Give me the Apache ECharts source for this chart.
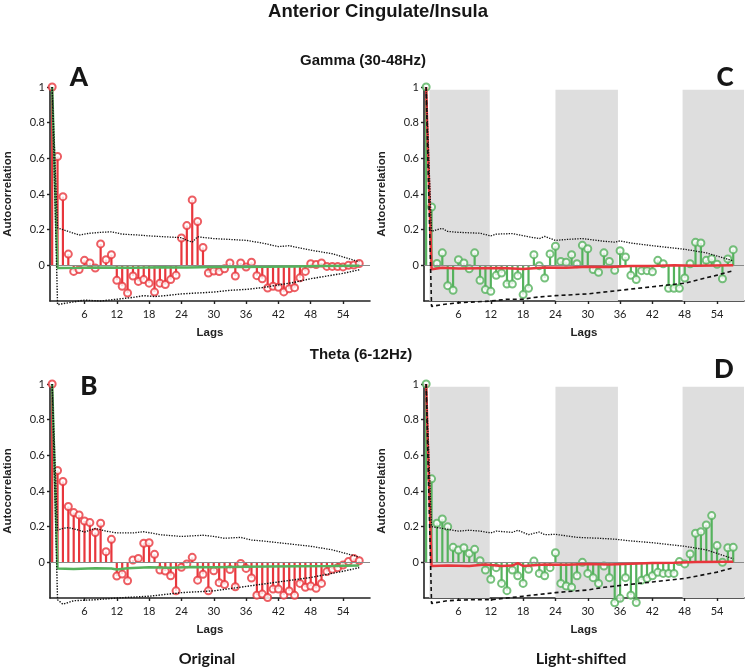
<!DOCTYPE html>
<html>
<head>
<meta charset="utf-8">
<script src="https://cdn.jsdelivr.net/npm/echarts@6/dist/echarts.min.js"></script>
<style>
html,body{margin:0;padding:0;background:#fff;}
#chart{width:750px;height:669px;}
</style>
</head>
<body>
<div id="chart"></div>
<script>
// ---------------- DATA ----------------
// Autocorrelation by lag (lag 0 .. 57)
const gammaOriginal = [1.0, 0.61, 0.385, 0.063, -0.034, -0.024, 0.028, 0.013, -0.015, 0.12, 0.032, 0.06, -0.084, -0.117, -0.155, -0.06, -0.09, -0.08, -0.1, -0.15, -0.1, -0.108, -0.08, -0.056, 0.153, 0.223, 0.367, 0.246, 0.10, -0.043, -0.032, -0.035, -0.019, 0.013, -0.06, 0.013, -0.01, 0.017, -0.058, -0.075, -0.127, -0.117, -0.123, -0.149, -0.132, -0.125, -0.07, -0.034, 0.009, 0.004, 0.013, -0.006, -0.006, -0.007, -0.009, 0, 0.002, 0.01];
const thetaOriginal = [1.0, 0.515, 0.453, 0.313, 0.279, 0.266, 0.232, 0.223, 0.167, 0.219, 0.06, 0.129, -0.077, -0.066, -0.103, 0.013, 0.022, 0.107, 0.11, 0.045, -0.043, -0.049, -0.075, -0.16, -0.028, -0.009, 0.028, -0.1, -0.067, -0.16, -0.047, -0.114, -0.124, -0.04, -0.137, -0.006, -0.034, -0.088, -0.184, -0.178, -0.197, -0.15, -0.15, -0.184, -0.161, -0.185, -0.118, -0.14, -0.133, -0.146, -0.118, -0.052, -0.039, -0.03, -0.015, 0.004, 0.022, 0.009];
const gammaShifted = [1.0, 0.327, 0.01, 0.07, -0.114, -0.14, 0.032, 0.013, -0.019, 0.07, -0.084, -0.136, -0.146, -0.056, -0.043, -0.105, -0.105, -0.058, -0.164, -0.129, 0.06, -0.002, -0.071, 0.064, 0.107, 0.022, 0.017, 0.06, 0.009, 0.112, 0.093, -0.024, -0.039, 0.07, 0.022, -0.028, 0.082, 0.047, -0.056, -0.08, -0.03, -0.03, -0.036, 0.028, 0.009, -0.129, -0.129, -0.129, -0.071, 0.009, 0.129, 0.125, 0.028, 0.037, 0.006, -0.075, 0.036, 0.088];
const thetaShifted = [1.0, 0.468, 0.219, 0.243, 0.2, 0.084, 0.069, 0.082, 0.05, 0.073, 0.009, -0.043, -0.095, -0.03, -0.118, -0.159, -0.043, -0.075, -0.118, -0.039, 0.007, -0.062, -0.075, -0.03, 0.054, -0.118, -0.133, -0.14, -0.075, 0.0, -0.062, -0.086, -0.118, -0.021, -0.086, -0.227, -0.202, -0.086, -0.184, -0.225, -0.1, -0.09, -0.075, -0.056, -0.062, -0.062, -0.062, 0.004, -0.009, 0.047, 0.163, 0.172, 0.21, 0.262, 0.094, 0.0, 0.082, 0.084];

// Mean of the null (surrogate) autocorrelation, [lag, value]
const gammaOriginalNull = [[0,1],[1,-0.015],[5,-0.014],[10,-0.012],[15,-0.013],[20,-0.011],[25,-0.012],[30,-0.01],[35,-0.009],[40,-0.008],[45,-0.006],[50,-0.004],[57,-0.002]];
const thetaOriginalNull = [[0,1],[1,-0.035],[4,-0.037],[8,-0.033],[11,-0.035],[12,-0.04],[14,-0.033],[18,-0.028],[22,-0.03],[26,-0.026],[30,-0.027],[36,-0.025],[40,-0.024],[46,-0.022],[52,-0.02],[57,-0.018]];
const gammaShiftedNull = [[0,1],[1,-0.022],[3,-0.014],[6,-0.018],[10,-0.016],[14,-0.015],[18,-0.02],[22,-0.012],[26,-0.013],[30,-0.008],[34,-0.009],[38,-0.004],[42,-0.004],[46,0],[50,-0.002],[57,0]];
const thetaShiftedNull = [[0,1],[1,-0.02],[4,-0.018],[8,-0.02],[11,-0.012],[14,-0.02],[16,-0.018],[17,-0.005],[18,-0.02],[22,-0.012],[26,-0.014],[30,-0.01],[34,-0.012],[38,-0.008],[42,-0.004],[46,-0.002],[50,0.002],[57,0.003]];

// Confidence bounds, [lag, value]
const gammaOriginalUpper = [[0,1],[1,0.21],[3,0.19],[5,0.17],[7,0.18],[9,0.185],[11,0.188],[13,0.175],[16,0.17],[18,0.165],[21,0.16],[24,0.155],[25,0.14],[26,0.13],[27,0.16],[30,0.15],[33,0.145],[36,0.14],[39,0.125],[42,0.105],[44,0.11],[48,0.085],[52,0.065],[57,0.02]];
const gammaOriginalLower = [[0,1],[1,-0.22],[3,-0.21],[6,-0.195],[9,-0.2],[12,-0.19],[15,-0.18],[17,-0.17],[19,-0.175],[21,-0.17],[24,-0.16],[27,-0.155],[30,-0.15],[33,-0.14],[36,-0.135],[39,-0.125],[42,-0.11],[45,-0.095],[48,-0.075],[51,-0.06],[54,-0.045],[57,-0.025]];
const thetaOriginalUpper = [[0,1],[1,0.18],[2,0.19],[3,0.195],[5,0.18],[6,0.17],[8,0.19],[10,0.175],[12,0.165],[15,0.165],[17,0.172],[20,0.155],[24,0.145],[28,0.152],[30,0.145],[32,0.135],[35,0.14],[37,0.125],[39,0.12],[42,0.11],[48,0.09],[52,0.07],[57,0.03]];
const thetaOriginalLower = [[0,1],[1,-0.21],[2,-0.235],[4,-0.215],[8,-0.21],[12,-0.2],[18,-0.19],[24,-0.17],[30,-0.16],[36,-0.135],[42,-0.11],[48,-0.085],[54,-0.05],[57,-0.03]];
const gammaShiftedUpper = [[0,1],[1,0.19],[2,0.2],[3,0.207],[4,0.19],[6,0.185],[10,0.18],[12,0.165],[13,0.175],[16,0.178],[19,0.16],[21,0.15],[22,0.162],[24,0.14],[26,0.145],[29,0.15],[33,0.135],[35,0.13],[36,0.137],[38,0.125],[42,0.11],[45,0.1],[48,0.09],[52,0.07],[57,0.025]];
const gammaShiftedLower = [[0,1],[1,-0.23],[3,-0.22],[6,-0.21],[9,-0.205],[12,-0.2],[15,-0.19],[18,-0.19],[20,-0.18],[24,-0.17],[30,-0.16],[36,-0.14],[42,-0.12],[48,-0.1],[54,-0.055],[57,-0.03]];
const thetaShiftedUpper = [[0,1],[1,0.2],[3,0.19],[6,0.175],[8,0.18],[10,0.175],[12,0.165],[13,0.175],[16,0.168],[17,0.18],[19,0.155],[21,0.17],[22,0.155],[24,0.157],[28,0.14],[32,0.135],[35,0.13],[38,0.12],[42,0.11],[48,0.09],[52,0.07],[57,0.02]];
const thetaShiftedLower = [[0,1],[1,-0.23],[4,-0.215],[8,-0.21],[12,-0.21],[15,-0.2],[18,-0.19],[21,-0.18],[24,-0.17],[30,-0.155],[33,-0.14],[36,-0.13],[42,-0.11],[48,-0.09],[54,-0.055],[57,-0.03]];

// Shaded lag ranges in the light-shifted panels, [from, to]
const shadedLags = [[0.6, 11.8], [24, 35.6], [47.6, 59]];

// Tick labels
const xTicks = [6, 12, 18, 24, 30, 36, 42, 48, 54];
const yTicks = [0, 0.2, 0.4, 0.6, 0.8, 1];

// Texts
const mainTitle = 'Anterior Cingulate/Insula';
const rowTitles = ['Gamma (30-48Hz)', 'Theta (6-12Hz)'];
const colTitles = ['Original', 'Light-shifted'];
const panelLetters = ['A', 'C', 'B', 'D'];

// ---------------- STYLE ----------------
const RED = '#e8363c';
const GREEN = '#55b25d';
const BAND = '#dedede';
const AXIS = '#222';
const NARROW = '"Liberation Sans Narrow", "Liberation Sans", Arial, sans-serif';
const TICKFONT = 'Lato, "Open Sans", sans-serif';

const panels = [
  {left: 50,  top: 87,  vals: gammaOriginal, mean: gammaOriginalNull, upper: gammaOriginalUpper, lower: gammaOriginalLower, c: RED,   mc: GREEN, bands: false},
  {left: 424, top: 87,  vals: gammaShifted,  mean: gammaShiftedNull,  upper: gammaShiftedUpper,  lower: gammaShiftedLower,  c: GREEN, mc: RED,   bands: true},
  {left: 50,  top: 384, vals: thetaOriginal, mean: thetaOriginalNull, upper: thetaOriginalUpper, lower: thetaOriginalLower, c: RED,   mc: GREEN, bands: false},
  {left: 424, top: 384, vals: thetaShifted,  mean: thetaShiftedNull,  upper: thetaShiftedUpper,  lower: thetaShiftedLower,  c: GREEN, mc: RED,   bands: true}
];

const grids = [], xAxes = [], yAxes = [], series = [];
panels.forEach((p, i) => {
  grids.push({left: p.left, top: p.top, width: 320, height: 214, containLabel: false});
  xAxes.push({
    type: 'value', gridIndex: i, min: -0.4, max: 59,
    name: 'Lags', nameLocation: 'middle', nameGap: 26,
    nameTextStyle: {fontFamily: 'Liberation Sans, Arial, sans-serif', fontWeight: 'bold', fontSize: 11.5, color: '#222'},
    axisLine: {onZero: false, lineStyle: {color: AXIS, width: 1.6}},
    axisTick: {show: true, inside: false, length: 3, customValues: xTicks, lineStyle: {color: AXIS, width: 1.4}},
    axisLabel: {customValues: xTicks, margin: 8, fontSize: 11, fontFamily: TICKFONT, color: '#222'},
    splitLine: {show: false}
  });
  yAxes.push({
    type: 'value', gridIndex: i, min: -0.2, max: 1,
    name: 'Autocorrelation', nameLocation: 'middle', nameGap: 36,
    nameTextStyle: {fontFamily: 'Liberation Sans, Arial, sans-serif', fontWeight: 'bold', fontSize: 11.5, color: '#222'},
    axisLine: {show: true, onZero: false, lineStyle: {color: AXIS, width: 1.6}},
    axisTick: {show: true, inside: false, length: 3, customValues: yTicks, lineStyle: {color: AXIS, width: 1.4}},
    axisLabel: {customValues: yTicks, margin: 5, fontSize: 11, fontFamily: TICKFONT, color: '#222',
                formatter: v => String(Math.round(v * 10) / 10)},
    splitLine: {show: false}
  });

  // bands + zero line
  series.push({
    type: 'line', xAxisIndex: i, yAxisIndex: i, data: [], silent: true, z: 1,
    markArea: p.bands ? {
      silent: true, itemStyle: {color: BAND},
      data: shadedLags.map(b => [{xAxis: b[0], yAxis: 0.985}, {xAxis: b[1], yAxis: -0.2}])
    } : undefined,
    markLine: {
      silent: true, symbol: 'none', label: {show: false},
      lineStyle: {color: '#8a8a8a', width: 1, type: 'solid'},
      data: [{yAxis: 0}]
    }
  });

  const pts = p.vals.map((v, k) => [k, v]);
  // stems
  series.push({
    type: 'custom', xAxisIndex: i, yAxisIndex: i, data: pts, z: 3, silent: true, clip: false,
    renderItem: (params, api) => {
      const x = api.value(0), y = api.value(1);
      const a = api.coord([x, 0]), b = api.coord([x, y]);
      return {type: 'line', shape: {x1: a[0], y1: a[1], x2: b[0], y2: b[1]},
              style: {stroke: p.c, lineWidth: 2.2}};
    }
  });
  // circles
  series.push({
    type: 'scatter', xAxisIndex: i, yAxisIndex: i, data: pts, z: 4, silent: true, clip: false,
    symbol: 'circle', symbolSize: 7,
    itemStyle: {color: '#fff', borderColor: p.c, borderWidth: 2}
  });
  // null mean
  series.push({
    type: 'line', xAxisIndex: i, yAxisIndex: i, data: p.mean, z: 5, silent: true, clip: false,
    showSymbol: false, symbol: 'none',
    lineStyle: {color: p.mc, width: 2.5}
  });
  // bounds
  series.push({
    type: 'line', xAxisIndex: i, yAxisIndex: i, data: p.upper, z: 6, silent: true, clip: false,
    showSymbol: false, symbol: 'none',
    lineStyle: {color: '#111', width: 1.3, type: 'dotted'}
  });
  series.push({
    type: 'line', xAxisIndex: i, yAxisIndex: i, data: p.lower, z: 6, silent: true, clip: false,
    showSymbol: false, symbol: 'none',
    lineStyle: p.bands ? {color: '#111', width: 1.6, type: [4, 3]} : {color: '#111', width: 1.4, type: 'dotted'}
  });
});

function txt(text, x, y, size, family, weight) {
  return {type: 'text', x: x, y: y, silent: true,
          style: {text: text, fontSize: size, fontFamily: family, fontWeight: weight || 'bold', fill: '#161616',
                  align: 'center', verticalAlign: 'middle', textAlign: 'center', textVerticalAlign: 'middle'}};
}
const LETTERFONT = 'Lato, "Open Sans", sans-serif';
const graphic = [
  txt(mainTitle, 378, 12, 18.5, NARROW),
  txt(rowTitles[0], 363, 61, 15, NARROW),
  txt(rowTitles[1], 361, 355, 15, NARROW),
  txt(colTitles[0], 207, 659, 16, 'Lato, "Open Sans", sans-serif'),
  txt(colTitles[1], 581, 659, 16, 'Lato, "Open Sans", sans-serif'),
  txt(panelLetters[0], 79, 78, 26, LETTERFONT, '900'),
  txt(panelLetters[1], 725, 78, 26, LETTERFONT, '900'),
  txt(panelLetters[2], 89, 387, 26, LETTERFONT, '900'),
  txt(panelLetters[3], 724, 370, 26, LETTERFONT, '900')
];

const chart = echarts.init(document.getElementById('chart'), null, {renderer: 'canvas'});
chart.setOption({
  animation: false,
  backgroundColor: '#fff',
  grid: grids, xAxis: xAxes, yAxis: yAxes, series: series, graphic: graphic
});
</script>
</body>
</html>
